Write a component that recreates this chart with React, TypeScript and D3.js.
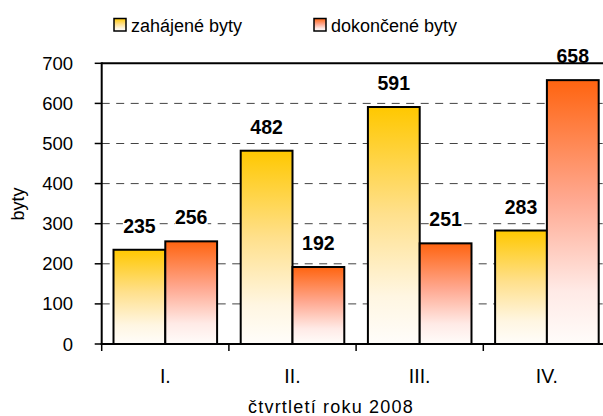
import React from "react";
import * as d3 from "d3";

const categories = ["I.", "II.", "III.", "IV."];
const seriesNames = ["zahájené byty", "dokončené byty"];
const started = [235, 482, 591, 283];
const completed = [256, 192, 251, 658];
const yTicks = [0, 100, 200, 300, 400, 500, 600, 700];

const W = 603;
const H = 416;
const left = 101.7;
const right = 610.5;
const top = 63.3;
const bottom = 344;
const FONT = "'Liberation Sans', Arial, sans-serif";

export default function App() {
  const x = d3.scaleBand<string>().domain(categories).range([left, right]).paddingInner(0).paddingOuter(0);
  const inner = d3.scaleBand<string>().domain(["s", "c"]).range([0, x.bandwidth()]).paddingOuter(0.228).paddingInner(0);
  const y = d3.scaleLinear().domain([0, 700]).range([bottom, top]);
  const series = [
    { key: "s", values: started, fill: "url(#gY)" },
    { key: "c", values: completed, fill: "url(#gO)" },
  ];
  return (
    <svg width={W} height={H} style={{ position: "absolute", left: 0, top: 0, background: "#fff" }} fontFamily={FONT}>
      <defs>
        <linearGradient id="gY" x1="0" y1="0" x2="0" y2="1">
          <stop offset="0" stopColor="#FFC800" />
          <stop offset="0.45" stopColor="#FFE08C" />
          <stop offset="0.8" stopColor="#FFF6E2" />
          <stop offset="1" stopColor="#FFFDFA" />
        </linearGradient>
        <linearGradient id="gO" x1="0" y1="0" x2="0" y2="1">
          <stop offset="0" stopColor="#FF6410" />
          <stop offset="0.45" stopColor="#FFA890" />
          <stop offset="0.8" stopColor="#FFEAE6" />
          <stop offset="1" stopColor="#FFFCFA" />
        </linearGradient>
      </defs>
      <rect x={0} y={0} width={W} height={H} fill="#fff" />
      {yTicks.filter((t) => t > 0 && t < 700).map((t) => (
        <line key={t} x1={left} x2={right} y1={y(t)} y2={y(t)} stroke="#444" strokeWidth={1} strokeDasharray="8,6.5" />
      ))}
      {series.map((s) =>
        categories.map((c, i) => (
          <rect
            key={s.key + c}
            x={(x(c) as number) + (inner(s.key) as number)}
            y={y(s.values[i])}
            width={inner.bandwidth()}
            height={bottom - y(s.values[i])}
            fill={s.fill}
            stroke="#000"
            strokeWidth={2}
          />
        ))
      )}
      {series.map((s) =>
        categories.map((c, i) => {
          const cx = (x(c) as number) + (inner(s.key) as number) + inner.bandwidth() / 2;
          const by = y(s.values[i]) - 17;
          const txt = String(s.values[i]);
          const tw = txt.length * 11;
          return (
            <g key={"l" + s.key + c}>
              <rect x={cx - tw / 2} y={by - 14} width={tw} height={15} fill="#fff" />
              <text x={cx} y={by} textAnchor="middle" fontSize={19.5} fontWeight="bold" fill="#000">
                {txt}
              </text>
            </g>
          );
        })
      )}
      <line x1={left} x2={right} y1={y(700)} y2={y(700)} stroke="#000" strokeWidth={2} />
      <line x1={left} x2={left} y1={top - 1} y2={bottom + 1} stroke="#000" strokeWidth={2} />
      <line x1={left - 1} x2={right} y1={bottom} y2={bottom} stroke="#000" strokeWidth={2} />
      {yTicks.map((t) => (
        <g key={"yt" + t}>
          <line x1={left - 7} x2={left} y1={y(t)} y2={y(t)} stroke="#000" strokeWidth={1.5} />
          <text x={73} y={y(t) + 6.5} textAnchor="end" fontSize={18.5} fill="#000">
            {t}
          </text>
        </g>
      ))}
      {categories.map((c) => (
        <line key={"xt" + c} x1={x(c) as number} x2={x(c) as number} y1={bottom} y2={bottom + 7} stroke="#000" strokeWidth={1.5} />
      ))}
      {categories.map((c) => (
        <text key={"xl" + c} x={(x(c) as number) + x.bandwidth() / 2} y={383} textAnchor="middle" fontSize={19.5} fill="#000">
          {c}
        </text>
      ))}
      <text x={331} y={413} textAnchor="middle" fontSize={18} letterSpacing={1.2} fill="#000">
        čtvrtletí roku 2008
      </text>
      <text transform="translate(24,204) rotate(-90)" textAnchor="middle" fontSize={18} fill="#000">
        byty
      </text>
      {[
        { x: 114, fill: "url(#gY)", label: seriesNames[0] },
        { x: 314, fill: "url(#gO)", label: seriesNames[1] },
      ].map((l) => (
        <g key={l.label}>
          <rect x={l.x} y={18.5} width={12} height={12.5} fill={l.fill} stroke="#000" strokeWidth={1.5} />
          <text x={l.x + 17} y={32} fontSize={18} fill="#000">
            {l.label}
          </text>
        </g>
      ))}
    </svg>
  );
}
